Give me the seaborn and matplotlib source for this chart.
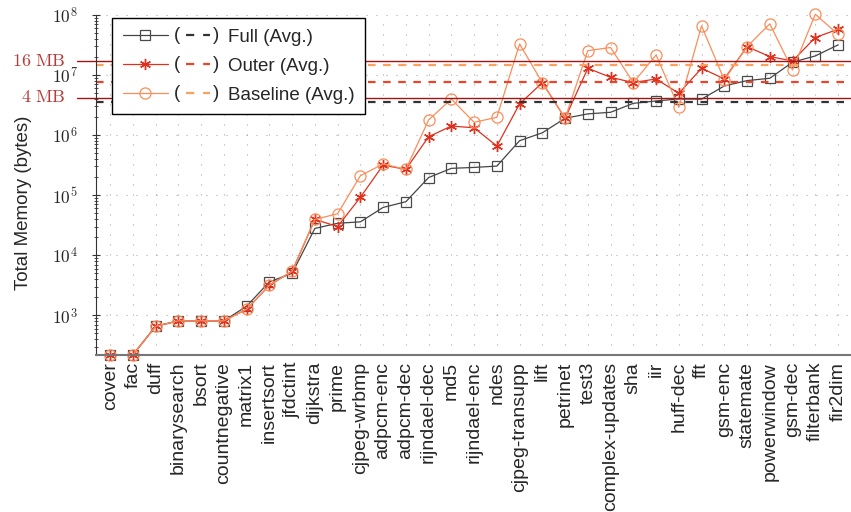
import numpy as np
import pandas as pd
import matplotlib
matplotlib.use("Agg")
import matplotlib.pyplot as plt
from matplotlib.lines import Line2D
from matplotlib.text import Text
from matplotlib.legend_handler import HandlerBase
from matplotlib.ticker import FuncFormatter, LogLocator, NullFormatter
import seaborn as sns

# benchmarks, sorted by the memory of the full variant
benchmarks = ["cover", "fac", "duff", "binarysearch", "bsort", "countnegative",
              "matrix1", "insertsort", "jfdctint", "dijkstra", "prime",
              "cjpeg-wrbmp", "adpcm-enc", "adpcm-dec", "rijndael-dec", "md5",
              "rijndael-enc", "ndes", "cjpeg-transupp", "lift", "petrinet",
              "test3", "complex-updates", "sha", "iir", "huff-dec", "fft",
              "gsm-enc", "statemate", "powerwindow", "gsm-dec", "filterbank",
              "fir2dim"]

# total memory in bytes
full = [220, 220, 656, 810, 810, 810, 1420, 3600, 5000, 27900, 34000, 35900,
        62400, 77600, 196000, 279000, 289000, 304000, 804000, 1090000,
        1900000, 2250000, 2390000, 3370000, 3690000, 3980000, 3950000,
        6560000, 8050000, 8800000, 16300000, 20700000, 31600000]
outer = [220, 220, 656, 810, 810, 810, 1260, 3160, 5400, 39400, 30000, 92000,
         316000, 268000, 937000, 1410000, 1320000, 656000, 3290000, 7450000,
         1900000, 12900000, 9140000, 7450000, 8580000, 4950000, 12900000,
         8600000, 29600000, 20200000, 17100000, 41900000, 57700000]
baseline = [220, 220, 656, 810, 810, 810, 1260, 3160, 5400, 39400, 49000,
            210000, 330000, 268000, 1780000, 3980000, 1630000, 1970000,
            32800000, 7450000, 1900000, 25400000, 28600000, 7450000, 21500000,
            2890000, 65600000, 8250000, 29600000, 70800000, 12100000,
            102000000, 47600000]

limit_labels = ["16 MB", "4 MB"]
limit_bytes = [16 * 2**20, 4 * 2**20]

sns.set_style("ticks")
plt.rcParams['font.family'] = ['Liberation Sans', 'DejaVu Sans']
plt.rcParams['mathtext.fontset'] = 'cm'

df = pd.DataFrame({"pos": np.arange(len(benchmarks)), "bench": benchmarks,
                   "Full": full, "Outer": outer, "Baseline": baseline})

fig, ax = plt.subplots(figsize=(8.51, 5.12), dpi=100)
fig.subplots_adjust(left=0.113, right=1.0, top=0.971, bottom=0.307)

series = [
    ("Full", dict(color="#454545", marker="s", mfc="none", mec="#4a4a4a", ms=7.5, mew=0.9), "#333333"),
    ("Outer", dict(color="#e0301e", marker=(6, 2, 0), mfc="none", mec="#e0301e", ms=8, mew=1.0), "#e8452c"),
    ("Baseline", dict(color="#fc8d59", marker="o", mfc="none", mec="#fc8d59", ms=8, mew=0.9), "#fda060"),
]

handles = []
for name, kw, avg_col in series:
    sns.lineplot(data=df, x="pos", y=name, ax=ax, lw=0.9, clip_on=False,
                 errorbar=None, **kw)
    handles.append((ax.lines[-1], avg_col))

# average lines
for name, kw, avg_col in series:
    ax.axhline(np.mean(df[name]), color=avg_col, lw=1.6, ls=(0, (3.4, 3.4)))

# memory limits
for lab, val in zip(limit_labels, limit_bytes):
    ax.plot([-0.025, 1.0], [val, val], color="#a31515", lw=1.0,
            transform=ax.get_yaxis_transform(), clip_on=False)
    ax.text(-0.04, val, r"$\mathrm{%s}$" % lab.replace(" ", r"\ "),
            color="#b83a3a", fontsize=13, ha="right", va="center",
            transform=ax.get_yaxis_transform())

ax.set_yscale("log")
ax.set_ylim(220, 1e8)
ax.set_xlim(-0.615, 32.57)
ax.yaxis.set_major_locator(LogLocator(base=10))
ax.yaxis.set_minor_locator(LogLocator(base=10, subs=np.arange(2, 10)))
ax.yaxis.set_minor_formatter(NullFormatter())
ax.yaxis.set_major_formatter(FuncFormatter(lambda v, _: r"$10^{%d}$" % round(np.log10(v))))

ax.set_xticks(df["pos"])
ax.set_xticklabels(benchmarks, rotation=90)
ax.tick_params(axis="x", length=0, pad=5, labelsize=14)
ax.tick_params(axis="y", which="major", direction="inout", length=6, width=0.8,
               color="#333333", pad=10, labelsize=12.5)
ax.tick_params(axis="y", which="minor", direction="inout", length=3.5, width=0.6,
               color="#333333")

ax.set_xlabel("")
ax.set_ylabel("Total Memory (bytes)", fontsize=13.5)
ax.yaxis.set_label_coords(-0.085, 0.447)
ax.grid(True, which="major", ls=(0, (1, 8)), color="#aaaaaa", lw=0.8)

sns.despine(ax=ax)
ax.spines["left"].set_color("#333333")
ax.spines["bottom"].set_color("#777777")
ax.spines["bottom"].set_linewidth(1.5)


class AvgHandler(HandlerBase):
    """series line + marker, then '( - - )' in the colour of the average line"""

    def __init__(self, avg_color):
        super().__init__()
        self.avg_color = avg_color

    def create_artists(self, legend, orig_handle, xdescent, ydescent,
                       width, height, fontsize, trans):
        y = height / 2 - ydescent
        x0 = -xdescent
        line = Line2D([x0, x0 + 0.45 * width], [y, y],
                      color=orig_handle.get_color(), lw=orig_handle.get_linewidth())
        mark = Line2D([x0 + 0.225 * width], [y], ls="none",
                      marker=orig_handle.get_marker(),
                      markersize=orig_handle.get_markersize(),
                      mfc=orig_handle.get_markerfacecolor(),
                      mec=orig_handle.get_markeredgecolor(),
                      mew=orig_handle.get_markeredgewidth())
        lpar = Text(x0 + 0.54 * width, y, "(", fontsize=fontsize, ha="center", va="center")
        dash = Line2D([x0 + 0.63 * width, x0 + 0.87 * width], [y, y],
                      color=self.avg_color, lw=1.6, ls=(0, (3.7, 4.0)))
        rpar = Text(x0 + 0.93 * width, y, ")", fontsize=fontsize, ha="center", va="center")
        arts = [line, mark, lpar, dash, rpar]
        for a in arts:
            a.set_transform(trans)
        return arts


leg = ax.legend([h for h, _ in handles], [f"{n} (Avg.)" for n, _, _ in series],
                handler_map={h: AvgHandler(c) for h, c in handles},
                loc="upper left", bbox_to_anchor=(0.021, 0.991), borderaxespad=0,
                fontsize=13.5, handlelength=5.33, handletextpad=0.27,
                labelspacing=0.63, borderpad=0.57, fancybox=False,
                edgecolor="black", framealpha=1)
leg.get_frame().set_linewidth(1.0)

plt.savefig("out.png", dpi=100)
